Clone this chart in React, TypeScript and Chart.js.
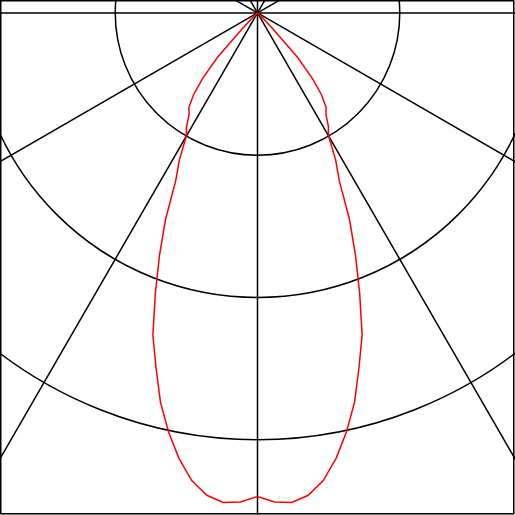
import { useEffect, useRef } from 'react'
import { Chart, registerables } from 'chart.js'

Chart.register(...registerables)

// polar angle (deg from nadir) and luminous intensity, C0-C180 plane, symmetric
const ANGLES = [0, 2, 4, 6, 8, 10, 12, 14, 16, 18, 20, 22, 24, 26, 28, 30, 32, 34, 36, 38, 40, 42, 44, 46, 48, 50, 60, 70, 80, 90]
const INTENSITY = [340, 344, 345, 341, 332, 318, 301, 282, 259, 238, 210, 184, 159, 131, 117, 100, 94, 86, 82, 73, 60, 42, 15, 5, 2, 1, 0, 0, 0, 0]

const RINGS = [100, 200, 300, 400]
const SPOKES = [0, 30, 60, 90, 120, 150, 180, 210, 240, 270, 300, 330]

const X_MIN = -181
const X_MAX = 181
const Y_MIN = -353
const Y_MAX = 9.1

const toXY = (deg: number, r: number) => {
    const a = (deg * Math.PI) / 180
    return { x: r * Math.sin(a), y: -r * Math.cos(a) }
}

const curvePoints = () => {
    const pts: { x: number; y: number }[] = []
    for (let i = ANGLES.length - 1; i > 0; i--) pts.push(toXY(-ANGLES[i], INTENSITY[i]))
    for (let i = 0; i < ANGLES.length; i++) pts.push(toXY(ANGLES[i], INTENSITY[i]))
    return pts
}

const polarGrid = {
    id: 'polarGrid',
    beforeDatasetsDraw(chart: Chart) {
        const { ctx, chartArea, scales } = chart as any
        const { x, y } = scales
        const cx = x.getPixelForValue(0)
        const cy = y.getPixelForValue(0)
        ctx.save()
        ctx.beginPath()
        ctx.rect(chartArea.left, chartArea.top, chartArea.right - chartArea.left, chartArea.bottom - chartArea.top)
        ctx.clip()
        ctx.strokeStyle = '#000'
        ctx.lineWidth = 1.5
        RINGS.forEach(v => {
            const r = x.getPixelForValue(v) - cx
            ctx.beginPath()
            ctx.arc(cx, cy, r, 0, Math.PI * 2)
            ctx.stroke()
        })
        SPOKES.forEach(deg => {
            const p = toXY(deg, 1000)
            ctx.beginPath()
            ctx.moveTo(cx, cy)
            ctx.lineTo(x.getPixelForValue(p.x), y.getPixelForValue(p.y))
            ctx.stroke()
        })
        ctx.restore()
    },
    afterDraw(chart: Chart) {
        const { ctx, chartArea } = chart as any
        ctx.save()
        ctx.strokeStyle = '#000'
        ctx.lineWidth = 1.5
        ctx.strokeRect(chartArea.left + 0.75, chartArea.top + 0.75, chartArea.right - chartArea.left - 2, chartArea.bottom - chartArea.top - 2)
        ctx.restore()
    },
}

export default function App() {
    const canvasRef = useRef<HTMLCanvasElement>(null)
    const chartRef = useRef<Chart | null>(null)

    useEffect(() => {
        if (!canvasRef.current) return
        document.body.style.margin = '0'
        if (chartRef.current) { chartRef.current.destroy(); chartRef.current = null }

        chartRef.current = new Chart(canvasRef.current, {
            type: 'scatter',
            data: {
                datasets: [{
                    data: curvePoints(),
                    showLine: true,
                    borderColor: '#ff0000',
                    borderWidth: 1.5,
                    pointRadius: 0,
                    tension: 0,
                    fill: false,
                }],
            },
            options: {
                responsive: false,
                animation: false,
                layout: { padding: 0 },
                plugins: { legend: { display: false }, tooltip: { enabled: false } },
                scales: {
                    x: { type: 'linear', min: X_MIN, max: X_MAX, display: false },
                    y: { type: 'linear', min: Y_MIN, max: Y_MAX, display: false },
                },
            },
            plugins: [polarGrid],
        })

        return () => { chartRef.current?.destroy(); chartRef.current = null }
    }, [])

    return (
        <div style={{ position: 'absolute', left: 0, top: 0, width: 515, height: 515, background: '#fff' }}>
            <canvas ref={canvasRef} width={515} height={515} />
        </div>
    )
}
